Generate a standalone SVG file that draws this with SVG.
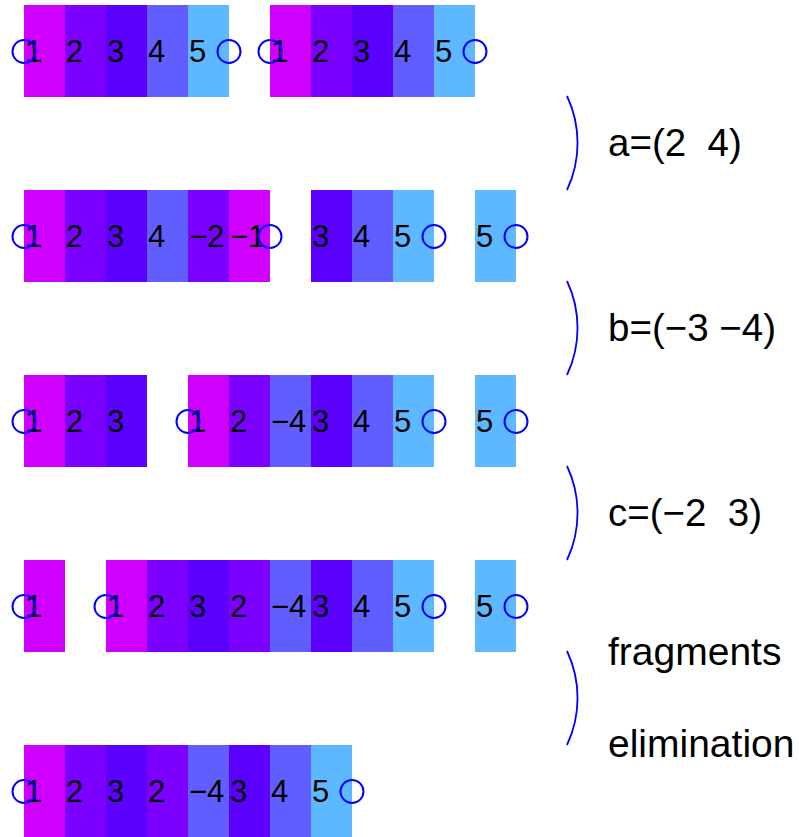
<svg xmlns="http://www.w3.org/2000/svg" width="799" height="837" viewBox="0 0 799 837">
<style>
.c1{fill:#CF00FF}.c2{fill:#7B00FF}.c3{fill:#5C00FF}.c4{fill:#605EFF}.c5{fill:#5EB8FF}
text{font-family:"Liberation Sans",Arial,sans-serif;fill:#000}
.d{font-size:31px}
.lab{font-size:38.5px;white-space:pre}
.lab2{font-size:39px}
.end{fill:none;stroke:#0000FF;stroke-width:2}
.br{fill:none;stroke:#0000FF;stroke-width:1.8}
</style>
<rect width="799" height="837" fill="#fff"/>
<!-- Row 1 -->
<g id="r1a">
<rect class="c1" x="24" y="5" width="41" height="92"/><rect class="c2" x="65" y="5" width="41" height="92"/><rect class="c3" x="106" y="5" width="41" height="92"/><rect class="c4" x="147" y="5" width="41" height="92"/><rect class="c5" x="188" y="5" width="41" height="92"/>
<text class="d" x="25" y="62">1</text><text class="d" x="66" y="62">2</text><text class="d" x="107" y="62">3</text><text class="d" x="148" y="62">4</text><text class="d" x="189" y="62">5</text>
<circle class="end" cx="24" cy="51.5" r="11.5"/><circle class="end" cx="229" cy="51.5" r="11.5"/>
</g>
<g id="r1b">
<rect class="c1" x="270" y="5" width="41" height="92"/><rect class="c2" x="311" y="5" width="41" height="92"/><rect class="c3" x="352" y="5" width="41" height="92"/><rect class="c4" x="393" y="5" width="41" height="92"/><rect class="c5" x="434" y="5" width="41" height="92"/>
<text class="d" x="271" y="62">1</text><text class="d" x="312" y="62">2</text><text class="d" x="353" y="62">3</text><text class="d" x="394" y="62">4</text><text class="d" x="435" y="62">5</text>
<circle class="end" cx="270" cy="51.5" r="11.5"/><circle class="end" cx="475" cy="51.5" r="11.5"/>
</g>
<!-- Row 2 -->
<g id="r2a">
<rect class="c1" x="24" y="190" width="41" height="92"/><rect class="c2" x="65" y="190" width="41" height="92"/><rect class="c3" x="106" y="190" width="41" height="92"/><rect class="c4" x="147" y="190" width="41" height="92"/><rect class="c2" x="188" y="190" width="41" height="92"/><rect class="c1" x="229" y="190" width="41" height="92"/>
<text class="d" x="25" y="247">1</text><text class="d" x="66" y="247">2</text><text class="d" x="107" y="247">3</text><text class="d" x="148" y="247">4</text><text class="d" x="189" y="247">−2</text><text class="d" x="230" y="247">−1</text>
<circle class="end" cx="24" cy="236.5" r="11.5"/><circle class="end" cx="270" cy="236.5" r="11.5"/>
</g>
<g id="r2b">
<rect class="c3" x="311" y="190" width="41" height="92"/><rect class="c4" x="352" y="190" width="41" height="92"/><rect class="c5" x="393" y="190" width="41" height="92"/>
<text class="d" x="312" y="247">3</text><text class="d" x="353" y="247">4</text><text class="d" x="394" y="247">5</text>
<circle class="end" cx="434" cy="236.5" r="11.5"/>
</g>
<g id="r2c">
<rect class="c5" x="475" y="190" width="41" height="92"/>
<text class="d" x="476" y="247">5</text>
<circle class="end" cx="516" cy="236.5" r="11.5"/>
</g>
<!-- Row 3 -->
<g id="r3a">
<rect class="c1" x="24" y="375" width="41" height="92"/><rect class="c2" x="65" y="375" width="41" height="92"/><rect class="c3" x="106" y="375" width="41" height="92"/>
<text class="d" x="25" y="432">1</text><text class="d" x="66" y="432">2</text><text class="d" x="107" y="432">3</text>
<circle class="end" cx="24" cy="421.5" r="11.5"/>
</g>
<g id="r3b">
<rect class="c1" x="188" y="375" width="41" height="92"/><rect class="c2" x="229" y="375" width="41" height="92"/><rect class="c4" x="270" y="375" width="41" height="92"/><rect class="c3" x="311" y="375" width="41" height="92"/><rect class="c4" x="352" y="375" width="41" height="92"/><rect class="c5" x="393" y="375" width="41" height="92"/>
<text class="d" x="189" y="432">1</text><text class="d" x="230" y="432">2</text><text class="d" x="271" y="432">−4</text><text class="d" x="312" y="432">3</text><text class="d" x="353" y="432">4</text><text class="d" x="394" y="432">5</text>
<circle class="end" cx="188" cy="421.5" r="11.5"/><circle class="end" cx="434" cy="421.5" r="11.5"/>
</g>
<g id="r3c">
<rect class="c5" x="475" y="375" width="41" height="92"/>
<text class="d" x="476" y="432">5</text>
<circle class="end" cx="516" cy="421.5" r="11.5"/>
</g>
<!-- Row 4 -->
<g id="r4a">
<rect class="c1" x="24" y="560" width="41" height="92"/>
<text class="d" x="25" y="617">1</text>
<circle class="end" cx="24" cy="606.5" r="11.5"/>
</g>
<g id="r4b">
<rect class="c1" x="106" y="560" width="41" height="92"/><rect class="c2" x="147" y="560" width="41" height="92"/><rect class="c3" x="188" y="560" width="41" height="92"/><rect class="c2" x="229" y="560" width="41" height="92"/><rect class="c4" x="270" y="560" width="41" height="92"/><rect class="c3" x="311" y="560" width="41" height="92"/><rect class="c4" x="352" y="560" width="41" height="92"/><rect class="c5" x="393" y="560" width="41" height="92"/>
<text class="d" x="107" y="617">1</text><text class="d" x="148" y="617">2</text><text class="d" x="189" y="617">3</text><text class="d" x="230" y="617">2</text><text class="d" x="271" y="617">−4</text><text class="d" x="312" y="617">3</text><text class="d" x="353" y="617">4</text><text class="d" x="394" y="617">5</text>
<circle class="end" cx="106" cy="606.5" r="11.5"/><circle class="end" cx="434" cy="606.5" r="11.5"/>
</g>
<g id="r4c">
<rect class="c5" x="475" y="560" width="41" height="92"/>
<text class="d" x="476" y="617">5</text>
<circle class="end" cx="516" cy="606.5" r="11.5"/>
</g>
<!-- Row 5 -->
<g id="r5a">
<rect class="c1" x="24" y="745" width="41" height="92"/><rect class="c2" x="65" y="745" width="41" height="92"/><rect class="c3" x="106" y="745" width="41" height="92"/><rect class="c2" x="147" y="745" width="41" height="92"/><rect class="c4" x="188" y="745" width="41" height="92"/><rect class="c3" x="229" y="745" width="41" height="92"/><rect class="c4" x="270" y="745" width="41" height="92"/><rect class="c5" x="311" y="745" width="41" height="92"/>
<text class="d" x="25" y="802">1</text><text class="d" x="66" y="802">2</text><text class="d" x="107" y="802">3</text><text class="d" x="148" y="802">2</text><text class="d" x="189" y="802">−4</text><text class="d" x="230" y="802">3</text><text class="d" x="271" y="802">4</text><text class="d" x="312" y="802">5</text>
<circle class="end" cx="24" cy="791.5" r="11.5"/><circle class="end" cx="352" cy="791.5" r="11.5"/>
</g>
<!-- Brackets -->
<g id="connectors">
<path class="br" d="M567,96 A110,110 0 0 1 567,190"/>
<path class="br" d="M567,281 A110,110 0 0 1 567,375"/>
<path class="br" d="M567,466 A110,110 0 0 1 567,560"/>
<path class="br" d="M567,651 A110,110 0 0 1 567,745"/>
</g>
<g id="labels">
<text class="lab" x="608" y="156">a=(2  4)</text>
<text class="lab" x="608" y="341">b=(−3 −4)</text>
<text class="lab" x="608" y="526">c=(−2  3)</text>
<text class="lab lab2" x="608" y="665">fragments</text>
<text class="lab lab2" x="608" y="757">elimination</text>
</g>
</svg>
